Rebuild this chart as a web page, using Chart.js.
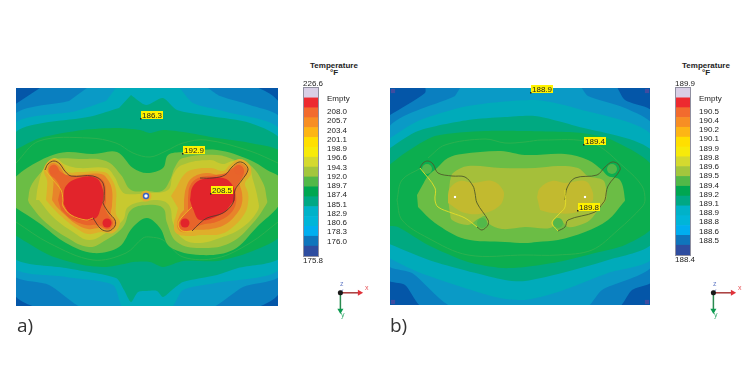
<!DOCTYPE html>
<html>
<head>
<meta charset="utf-8">
<title>Temperature plots</title>
<script src="https://cdn.jsdelivr.net/npm/chart.js@4"></script>
<style>
  html, body { margin: 0; padding: 0; background: #fff; }
  body { position: relative; width: 750px; height: 375px; overflow: hidden; font-family: "Liberation Sans", Arial, sans-serif; color: #222; }
  canvas { position: absolute; }
  .t { position: absolute; white-space: nowrap; transform: translateX(-50%); text-align: center; font-size: 8px; line-height: 7px; }
  .cap { position: absolute; font-family: "Open Sans", sans-serif; font-size: 19px; line-height: 20px; color: #333; }
  .ax { position: absolute; font-size: 7px; line-height: 7px; }
</style>
</head>
<body>
<canvas id="plateA" width="282" height="238" style="left:6px;top:78px"></canvas>
<canvas id="plateB" width="280" height="237" style="left:380px;top:78px"></canvas>
<canvas id="legendA" width="64" height="188" style="left:295px;top:78px"></canvas>
<canvas id="legendB" width="64" height="187" style="left:667px;top:78px"></canvas>
<canvas id="triadA" width="50" height="50" style="left:325px;top:275px"></canvas>
<canvas id="triadB" width="50" height="50" style="left:698px;top:275px"></canvas>

<div class="t" style="left:334px;top:62px;font-weight:bold">Temperature<br>°F</div>
<div class="t" style="left:313px;top:80px">226.6</div>
<div class="t" style="left:313px;top:257px">175.8</div>
<div class="t" style="left:706px;top:62px;font-weight:bold">Temperature<br>°F</div>
<div class="t" style="left:685px;top:80px">189.9</div>
<div class="t" style="left:685px;top:256px">188.4</div>
<div class="cap" style="left:17px;top:315px">a)</div>
<div class="cap" style="left:390px;top:315px">b)</div>
<div class="ax" style="left:365px;top:284px;color:#e8555a">x</div>
<div class="ax" style="left:341px;top:311px;color:#2ea868">y</div>
<div class="ax" style="left:340px;top:280px;color:#6a80c8">z</div>
<div class="ax" style="left:738px;top:284px;color:#e8555a">x</div>
<div class="ax" style="left:714px;top:311px;color:#2ea868">y</div>
<div class="ax" style="left:713px;top:280px;color:#6a80c8">z</div>

<script>
// legend rows, top to bottom
const legendColors = ['#d9cfe6', '#ed2a30', '#f26b2e', '#f78e24', '#fdb515', '#ffdf00', '#f7ea0a', '#d4d92f', '#a3c63d', '#52b848', '#00a651', '#00a884', '#00b2c8', '#00b5d8', '#00aeef', '#0f75bc', '#2e4da0'];
const legendLabelsA = ['Empty', '208.0', '205.7', '203.4', '201.1', '198.9', '196.6', '194.3', '192.0', '189.7', '187.4', '185.1', '182.9', '180.6', '178.3', '176.0'];
const legendLabelsB = ['Empty', '190.5', '190.4', '190.2', '190.1', '189.9', '189.8', '189.6', '189.5', '189.4', '189.2', '189.1', '188.9', '188.8', '188.6', '188.5'];

// panel a) contours, [x, y] across the plate, coolest first
const aBlue = [[27,-2],[235,-2],[264,17],[264,203],[237,220],[25,220],[-2,205],[-2,17]];
const aLightBlue = [[75,-3],[185,-3],[204,8],[234,17],[265,31],[265,186],[227,199],[192,221],[70,221],[33,197],[-3,186],[-3,29],[53,13]];
const aTeal = [[102,-3],[159,-3],[177,15],[207,23],[265,43],[265,179],[200,195],[167,202],[154,221],[108,221],[97,197],[50,189],[-3,178],[-3,38],[60,23],[90,13]];
const aTealGreen = [[115,7],[130,17],[147,10],[161,22],[194,28],[234,35],[265,53],[265,168],[222,180],[201,187],[167,194],[156,202],[147,209],[141,203],[131,203],[122,204],[115,214],[108,202],[100,190],[50,180],[-3,168],[-3,47],[77,28],[103,20]];
const aGreen = [[-3,63],[24,50],[67,42],[101,40],[124,42],[134,45],[147,42],[167,44],[201,50],[234,55],[265,65],[265,146],[234,164],[201,173],[167,173],[147,179],[134,174],[117,174],[108,176],[90,179],[67,177],[33,167],[-3,146]];
const aLightGreen = [[-3,91],[11,80],[34,68],[51,64],[77,66],[101,64],[117,80],[131,85],[147,80],[152,67],[167,64],[201,62],[234,72],[251,82],[265,91],[265,114],[241,139],[217,162],[184,167],[154,159],[144,140],[131,130],[117,139],[103,159],[77,165],[50,155],[23,135],[-3,118]];
const aOlive = [[12,112],[15,98],[27,82],[37,72],[63,71],[90,73],[105,87],[115,102],[131,103],[146,103],[154,92],[159,79],[167,70],[201,67],[219,72],[234,77],[247,95],[251,112],[251,115],[237,135],[214,155],[184,160],[161,154],[151,135],[147,120],[131,117],[115,122],[107,139],[90,152],[73,159],[50,149],[27,132],[13,115]];
const aYellow = [[20,112],[22,98],[28,80],[38,70],[50,77],[63,80],[90,80],[98,88],[105,102],[110,106],[131,105],[152,102],[157,87],[166,77],[194,72],[207,76],[217,73],[231,75],[237,92],[242,112],[242,122],[227,139],[204,150],[181,155],[166,150],[157,135],[154,119],[147,113],[131,113],[112,119],[107,132],[90,145],[73,152],[57,144],[37,129],[23,112]];
const aAmberL = [[30,112],[31,100],[31,92],[28,84],[30,76],[38,71],[46,76],[52,84],[63,84],[88,84],[95,90],[100,102],[100,115],[100,126],[104,135],[97,145],[85,144],[72,146],[60,140],[45,128],[35,118]];
const aAmberR = [[155,108],[160,100],[167,88],[175,82],[195,80],[207,83],[214,77],[223,71],[233,76],[235,86],[229,95],[232,105],[232,115],[229,125],[218,138],[205,146],[185,147],[172,148],[160,145],[158,135],[160,128],[162,120]];
const aOrangeL = [[36,112],[37,102],[37,92],[32,84],[33,77],[38,75],[44,79],[50,87],[60,87],[85,86],[92,92],[96,102],[96,118],[95,126],[100,135],[94,142],[84,140],[72,141],[60,136],[48,126],[40,118]];
const aOrangeR = [[168,112],[170,100],[176,90],[190,85],[205,87],[214,82],[223,75],[230,79],[231,86],[224,94],[226,105],[226,115],[222,124],[210,136],[195,141],[178,142],[166,144],[161,138],[164,127],[168,122]];
const aDeepOrangeL = [[42,112],[44,100],[40,92],[34,86],[34,79],[39,77],[45,84],[55,88],[78,88],[88,94],[90,112],[89,120],[93,128],[97,135],[92,141],[82,137],[70,137],[55,131],[45,122]];
const aDeepOrangeR = [[172,110],[174,98],[182,90],[200,87],[210,85],[217,80],[223,77],[228,82],[226,90],[220,100],[220,115],[214,126],[200,134],[185,137],[172,143],[163,139],[166,129],[172,123]];
const aRedL = [[47,112],[50,98],[63,90],[80,90],[87,102],[87,112],[85,119],[80,130],[67,132],[55,127],[47,115]];
const aRedR = [[174,112],[177,98],[187,91],[207,90],[217,98],[219,112],[216,115],[207,125],[184,132],[176,119]];
const aThinLine = [[0,75],[23,53],[73,50],[100,55],[117,65],[134,69],[150,63],[167,55],[190,52],[234,63],[262,75]];
const aThinLineLow = [[0,134],[33,155],[77,172],[110,165],[127,150],[134,149],[147,152],[167,169],[201,170],[234,155],[262,134]];
const aInsertDarkL = [[29,82],[32,76],[38,73],[44,76],[48,82],[55,88],[77,88],[87,95],[88,112],[87,115],[93,125],[99,132],[99,138],[93,143],[85,141],[77,130]];
const aInsertYellowL = [[29,82],[37,92],[45,102],[47,112],[47,118],[55,127],[70,132],[77,130]];
const aInsertDarkR = [[184,90],[197,90],[209,87],[216,79],[223,74],[229,76],[232,82],[226,92],[219,102],[217,115],[207,125],[191,130],[184,135],[176,143]];
const aInsertYellowR = [[176,143],[166,143],[162,136],[166,129],[176,119]];
const aHotX = [38, 91, 223, 169];
const aHotY = [82, 135, 82, 135];
const aHotColor = ['#e8622b', '#e2242b', '#e8622b', '#e2242b'];
const aProbeX = [124, 166, 194];
const aProbeY = [31, 66, 106];
const aProbeText = ['186.3', '192.9', '208.5'];
const aGateX = [130];
const aGateY = [108];

// panel b)
const bBlue = [[35,-3],[35,5],[0,27],[-3,28],[-3,191],[15,197],[34,220],[227,220],[242,202],[263,192],[263,25],[235,12],[226,-3]];
const bLightBlue = [[72,-3],[188,-3],[198,8],[235,20],[263,38],[263,176],[212,202],[195,220],[65,220],[22,185],[-3,176],[-3,42],[65,8]];
const bTeal = [[-3,52],[28,33],[78,18],[145,12],[185,20],[263,49],[263,169],[218,185],[168,204],[135,212],[105,209],[28,184],[-3,169]];
const bTealGreen = [[-3,62],[28,43],[78,32],[115,29],[145,28],[182,37],[263,64],[263,154],[218,172],[172,185],[135,193],[115,192],[45,174],[-3,155]];
const bGreen = [[-3,79],[15,65],[45,48],[95,43],[135,43],[192,45],[222,52],[263,79],[263,138],[235,157],[205,165],[168,174],[135,179],[112,180],[78,174],[38,157],[8,139],[-3,138]];
const bLightGreen = [[27,107],[32,98],[38,88],[47,80],[58,70],[72,66],[111,63],[135,67],[175,66],[198,72],[212,82],[218,88],[230,92],[235,112],[233,115],[218,132],[195,144],[168,152],[147,154],[135,155],[115,154],[75,151],[45,135],[28,119]];
const bOlive = [[60,93],[63,85],[78,78],[111,80],[145,80],[168,78],[188,80],[198,88],[213,92],[216,100],[216,112],[208,122],[200,132],[190,137],[178,139],[170,132],[160,140],[135,139],[112,141],[98,135],[95,128],[88,131],[78,137],[62,132],[60,125],[58,110]];
const bYellowL = [[58,107],[60,100],[70,93],[83,95],[102,93],[113,102],[113,112],[108,119],[95,125],[75,125],[58,115]];
const bYellowR = [[147,109],[150,100],[162,93],[175,95],[195,93],[202,102],[203,112],[200,115],[188,124],[162,125],[150,122]];
const bThinLine = [[7,112],[12,92],[31,80]];
const bThinLineTop = [[38,70],[55,57],[95,51],[115,55],[135,54],[152,52],[202,55],[235,80],[252,98],[255,112],[252,119],[228,142],[202,162],[168,167],[135,167],[78,167],[38,150],[12,132],[7,112]];
const bInsertDarkL = [[30,80],[33,75],[38,73],[43,76],[48,85],[62,88],[75,89],[83,98],[85,105],[87,115],[98,132],[98,137],[92,142],[87,139]];
const bInsertYellowL = [[30,80],[45,100],[45,112],[48,119],[62,125],[75,130],[87,139]];
const bInsertDarkR = [[175,112],[177,100],[185,90],[207,87],[215,79],[222,74],[228,76],[230,82],[218,98],[215,112],[213,115],[205,124],[178,132],[175,139],[168,143]];
const bInsertYellowR = [[168,143],[162,135],[168,127],[175,119],[175,102]];
const bCircleX = [37, 222, 92, 168];
const bCircleY = [81, 81, 135, 135];
const bDotX = [65, 195];
const bDotY = [109, 109];
const bProbeX = [140, 193, 187];
const bProbeY = [5, 57, 123];
const bProbeText = ['188.9', '189.4', '189.8'];
const bCornerX = [3, 257, 3, 257];
const bCornerY = [3, 3, 214, 214];

// triad arrows, x to the right, y downwards
const triadRed = [[0, 0], [24, 0]];
const triadGreen = [[0, 0], [0, 22]];
const triadBlue = [[0, 0], [3, -4]];

function pts(list) {
  return list.map(p => ({ x: p[0], y: p[1] }));
}
function band(list, color, tension) {
  return { data: pts(list), showLine: true, fill: 'shape', backgroundColor: color, borderWidth: 0, pointRadius: 0, tension: tension || 0.25 };
}
function rim(list, color, width) {
  return { data: pts(list), showLine: true, fill: false, borderColor: color, borderWidth: width, pointRadius: 0, tension: 0.35 };
}
function dots(xs, ys, color, size, style, edge) {
  return {
    data: xs.map((x, i) => ({ x: x, y: ys[i] })), showLine: false, backgroundColor: color,
    pointRadius: size, pointStyle: style || 'circle', borderColor: edge || color, pointBorderWidth: edge ? 1.5 : 0
  };
}

// yellow probe tags
const probeTags = {
  id: 'probeTags',
  afterDraw(chart, args, opts) {
    const ctx = chart.ctx;
    ctx.save();
    ctx.font = '8px "Liberation Sans", Arial, sans-serif';
    ctx.textBaseline = 'middle';
    opts.xs.forEach((x, i) => {
      const px = chart.scales.x.getPixelForValue(x);
      const py = chart.scales.y.getPixelForValue(opts.ys[i]);
      ctx.fillStyle = '#fff200';
      ctx.fillRect(px + 1, py - 8, 22, 8);
      ctx.fillStyle = '#222';
      ctx.fillRect(px, py - 1, 1.5, 1.5);
      ctx.fillText(opts.texts[i], px + 2, py - 3.6);
    });
    ctx.restore();
  }
};

function plate(id, w, h, datasets, probes) {
  // Chart.js paints the first dataset last, so the list is turned round
  return new Chart(document.getElementById(id), {
    type: 'scatter',
    data: { datasets: datasets.slice().reverse() },
    plugins: [probeTags],
    options: {
      responsive: false,
      animation: false,
      layout: { padding: 10 },
      plugins: { legend: { display: false }, tooltip: { enabled: false }, probeTags: probes },
      scales: {
        x: { display: false, min: 0, max: w },
        y: { display: false, min: 0, max: h, reverse: true }
      }
    }
  });
}

plate('plateA', 262, 218, [
  band([[-3,-3],[265,-3],[265,221],[-3,221]], '#0456a8', 0.01),
  band(aBlue, '#0a7fc0'),
  band(aLightBlue, '#0a9ac6'),
  band(aTeal, '#00abba'),
  band(aTealGreen, '#00a981'),
  band(aGreen, '#0cae4f'),
  rim(aThinLine, '#2bb14f', 1),
  rim(aThinLineLow, '#2bb14f', 1),
  band(aLightGreen, '#6bbd45', 0.35),
  band(aOlive, '#a5c33a', 0.4),
  band(aYellow, '#c8c92f', 0.4),
  band(aAmberL, '#dfae2a', 0.4),
  band(aAmberR, '#dfae2a', 0.4),
  band(aOrangeL, '#e8842a', 0.4),
  band(aOrangeR, '#e8842a', 0.4),
  band(aDeepOrangeL, '#e8642a', 0.4),
  band(aDeepOrangeR, '#e8642a', 0.4),
  band(aRedL, '#e2242b', 0.4),
  band(aRedR, '#e2242b', 0.4),
  dots(aHotX, aHotY, aHotColor, 4.5),
  rim(aInsertDarkL, '#5a3a2a', 0.9),
  rim(aInsertYellowL, '#ecbc24', 0.9),
  rim(aInsertDarkR, '#5a3a2a', 0.9),
  rim(aInsertYellowR, '#ecbc24', 0.9),
  dots(aGateX, aGateY, '#e0b030', 5.5),
  dots(aGateX, aGateY, '#ffffff', 2.5, 'circle', '#3b62c0')
], { xs: aProbeX, ys: aProbeY, texts: aProbeText });

plate('plateB', 260, 217, [
  band([[-3,-3],[263,-3],[263,220],[-3,220]], '#0456a8', 0.01),
  dots(bCornerX, bCornerY, '#3f4ca0', 3, 'rect'),
  band(bBlue, '#0a7fc0'),
  band(bLightBlue, '#0a9ac6'),
  band(bTeal, '#00abba'),
  band(bTealGreen, '#00a981'),
  band(bGreen, '#0cae4f'),
  rim(bThinLine, '#2bb14f', 1),
  rim(bThinLineTop, '#2bb14f', 1),
  band(bLightGreen, '#6bbd45', 0.35),
  band(bOlive, '#a5bf3a', 0.35),
  band(bYellowL, '#c2ba2f', 0.4),
  band(bYellowR, '#c2ba2f', 0.4),
  dots(bCircleX, bCircleY, '#52b84a', 5),
  rim(bInsertDarkL, '#4e5a2a', 0.9),
  rim(bInsertYellowL, '#e4de28', 0.9),
  rim(bInsertDarkR, '#4e5a2a', 0.9),
  rim(bInsertYellowR, '#e4de28', 0.9),
  dots(bDotX, bDotY, '#ffffff', 1.5, 'rect')
], { xs: bProbeX, ys: bProbeY, texts: bProbeText });

// thin frame round the legend bar
const legendFrame = {
  id: 'legendFrame',
  afterDatasetsDraw(chart) {
    const a = chart.chartArea;
    chart.ctx.save();
    chart.ctx.strokeStyle = '#8f8fa0';
    chart.ctx.strokeRect(a.left - 0.5, a.top - 0.5, a.right - a.left + 1, a.bottom - a.top + 1);
    chart.ctx.restore();
  }
};

function legend(id, labels) {
  new Chart(document.getElementById(id), {
    type: 'bar',
    data: {
      labels: legendColors.map((c, i) => i),
      datasets: [{ data: legendColors.map(() => 1), backgroundColor: legendColors, barPercentage: 1, categoryPercentage: 1, yAxisID: 'y' }]
    },
    plugins: [legendFrame],
    options: {
      indexAxis: 'y',
      responsive: false,
      animation: false,
      layout: { padding: { top: 10, bottom: 10, left: 9 } },
      plugins: { legend: { display: false }, tooltip: { enabled: false } },
      scales: {
        x: { display: false, min: 0, max: 1 },
        y: { display: false, type: 'category', offset: true },
        rows: {
          type: 'linear', position: 'right', min: 0, max: 17, reverse: true,
          grid: { display: false, drawTicks: false },
          border: { display: false },
          afterFit: s => { s.width = 41; s.paddingTop = 0; s.paddingBottom = 0; },
          afterBuildTicks: s => {
            // numbers sit on the row boundaries, Empty in the middle of its row
            s.ticks = labels.map((l, i) => ({ value: i === 0 ? 0.6 : i + 1 }));
          },
          ticks: {
            autoSkip: false, padding: 9, color: '#222',
            font: { family: '"Liberation Sans", Arial, sans-serif', size: 8 },
            callback: (v, i) => labels[i]
          }
        }
      }
    }
  });
}
legend('legendA', legendLabelsA);
legend('legendB', legendLabelsB);

function triad(id) {
  new Chart(document.getElementById(id), {
    type: 'scatter',
    data: {
      datasets: [
        { data: [{ x: 0, y: 0 }], backgroundColor: '#1a1a1a', pointRadius: 2.5 },
        rim(triadBlue, '#5a70c0', 1),
        { data: pts(triadRed), showLine: true, borderColor: '#a83a3a', borderWidth: 1.5, backgroundColor: '#e0323a', pointRadius: [0, 3.5], pointStyle: 'triangle', pointRotation: 90, pointBorderWidth: 0 },
        { data: pts(triadGreen), showLine: true, borderColor: '#2a8a50', borderWidth: 1.5, backgroundColor: '#0c9a50', pointRadius: [0, 3.5], pointStyle: 'triangle', pointRotation: 180, pointBorderWidth: 0 }
      ]
    },
    options: {
      responsive: false,
      animation: false,
      plugins: { legend: { display: false }, tooltip: { enabled: false } },
      scales: {
        x: { display: false, min: -13, max: 37 },
        y: { display: false, min: -16, max: 34, reverse: true }
      }
    }
  });
}
triad('triadA');
triad('triadB');
</script>
</body>
</html>
